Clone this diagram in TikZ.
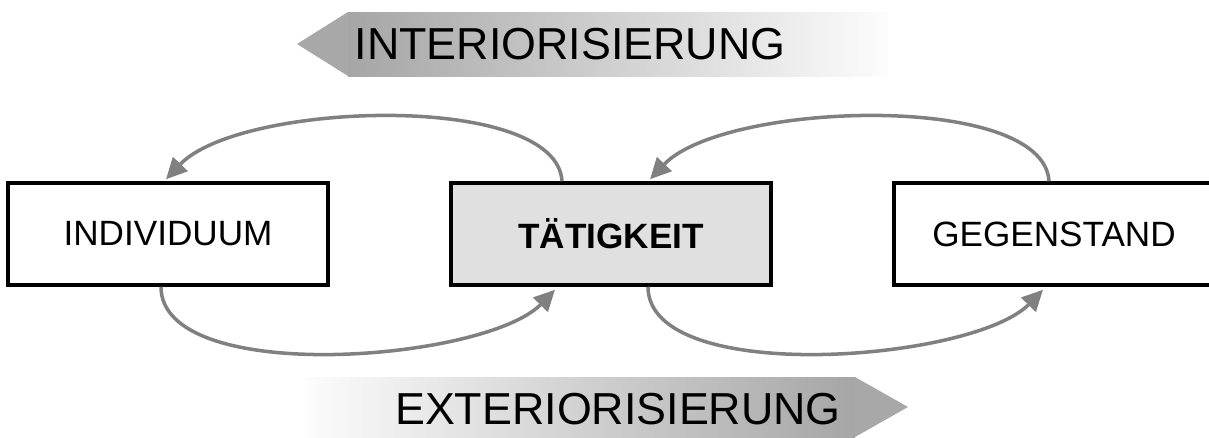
\documentclass[tikz,border=0pt]{standalone}
\usepackage{fontspec}
\setmainfont{Liberation Sans}
\usetikzlibrary{arrows.meta, calc}

\begin{document}
\begin{tikzpicture}[x=0.02cm, y=-0.02cm,
	kasten/.style={draw, line width=2pt, minimum width=6.4cm, minimum height=2.04cm, inner sep=0pt, font=\fontsize{20}{24}\selectfont},
	bogen/.style={draw=pfeilgrau, line width=2pt, -{Triangle[length=0.42cm, width=0.4cm]}},
	banner/.style={font=\fontsize{25.5}{30}\selectfont}]
	
	% Farben
	\definecolor{pfeilgrau}{RGB}{128,128,128}
	\definecolor{kopfgrau}{RGB}{168,168,168}
	\definecolor{kastengrau}{RGB}{224,224,224}
	
	\useasboundingbox (0,0) rectangle (1209,437);
	
	% Oberer Pfeil (Interiorisierung)
	\fill[left color=gray!70, right color=gray!2] (348,12) rectangle (888,76);
	\fill[kopfgrau] (297,44) -- (348,12) -- (348,76) -- cycle;
	\node[banner] (inter) at (570,44) {INTERIORISIERUNG};
	
	% Unterer Pfeil (Exteriorisierung)
	\fill[left color=gray!2, right color=gray!70] (305,377) rectangle (855,437);
	\fill[kopfgrau] (908,407) -- (855,377) -- (855,437) -- cycle;
	\node[banner] (exter) at (618,409) {EXTERIORISIERUNG};
	
	% Kaesten
	\node[kasten] (ind) at (168,234) {INDIVIDUUM};
	\node[kasten, fill=kastengrau] (tat) at (611,234) {\textbf{TÄTIGKEIT}};
	\node[kasten] (geg) at (1054,234) {GEGENSTAND};
	
	% Boegen oben
	\draw[bogen] ($(tat.north)+(-49,0)$) .. controls +(-5,-90) and +(74,-78) .. ($(ind.north)+(-2,-2)$);
	\draw[bogen] ($(geg.north)+(-5,0)$) .. controls +(-5,-90) and +(74,-78) .. ($(tat.north)+(39,-2)$);
	
	% Boegen unten
	\draw[bogen] ($(ind.south)+(-7,0)$) .. controls +(0,100) and +(-70,72) .. ($(tat.south)+(-56,3)$);
	\draw[bogen] ($(tat.south)+(37,0)$) .. controls +(0,100) and +(-70,72) .. ($(geg.south)+(-11,3)$);
	
\end{tikzpicture}
\end{document}
